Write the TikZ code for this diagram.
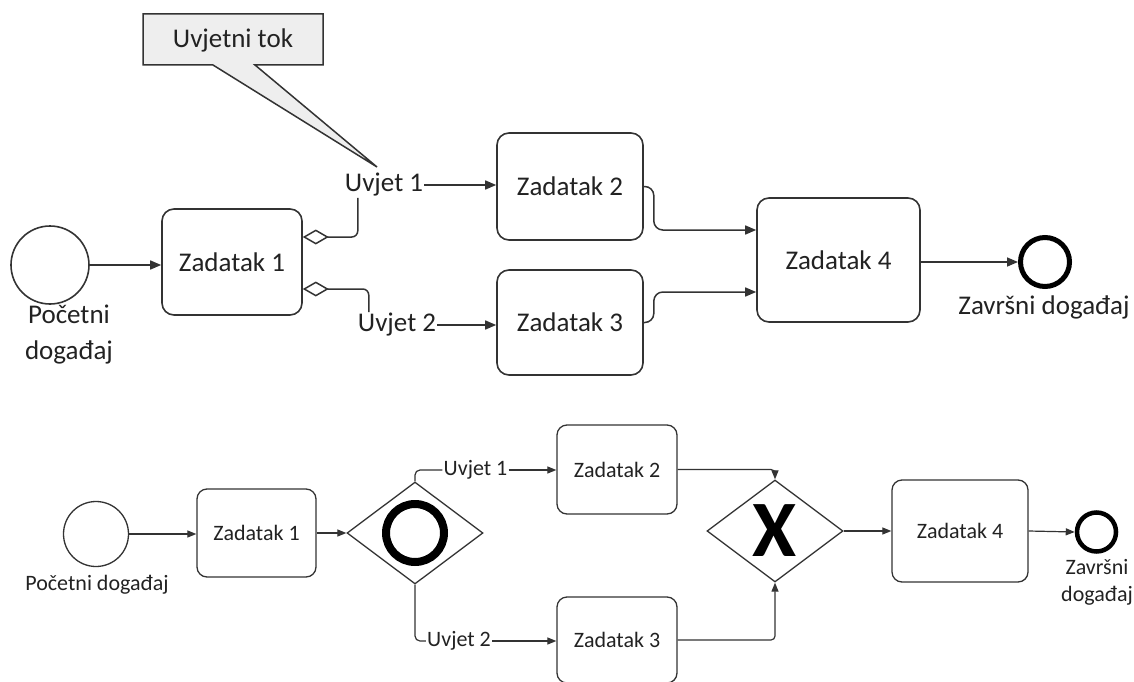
\documentclass[tikz,border=0pt]{standalone}
\usepackage{fontspec}
\setmainfont{Carlito}
\usetikzlibrary{arrows.meta,shapes.geometric,calc}
\definecolor{linec}{HTML}{333333}
\definecolor{txtc}{HTML}{222222}
\definecolor{callfill}{HTML}{EEEEEE}
\begin{document}
\begin{tikzpicture}[x=1pt,y=-1pt,
  bigtxt/.style={text=txtc,font=\fontsize{27}{36}\selectfont,inner sep=1pt},
  smalltxt/.style={text=txtc,font=\fontsize{22}{27}\selectfont,inner sep=1pt},
  taskA/.style={draw=linec,line width=1.6pt,rounded corners=12pt,inner sep=0pt,bigtxt},
  taskB/.style={draw=linec,line width=1.3pt,rounded corners=10pt,inner sep=0pt,smalltxt},
  startev/.style={circle,draw=linec,inner sep=0pt},
  endev/.style={circle,draw=black,inner sep=0pt},
  gateway/.style={diamond,draw=linec,line width=1.3pt,inner sep=0pt,minimum width=136pt,minimum height=102pt},
  flowA/.style={draw=linec,line width=1.5pt,-{Triangle[length=11pt,width=9pt]}},
  flowB/.style={draw=linec,line width=1.2pt,-{Triangle[length=9pt,width=7pt]}},
  condA/.style={draw=linec,line width=1.5pt,rounded corners=6pt,{Diamond[open,length=26pt,width=15pt]}-},
  plainB/.style={draw=linec,line width=1.2pt,rounded corners=5pt}
]
\useasboundingbox (0,0) rectangle (1134,682);

% ---------- top diagram ----------
\node[startev,line width=1.6pt,minimum size=78pt] (s1) at (50,265) {};
\node[bigtxt,align=center] (s1l) at (69,335) {Početni\\događaj};
\node[taskA,minimum width=140pt,minimum height=106pt] (t1) at (232,262) {Zadatak 1};
\node[taskA,minimum width=146pt,minimum height=107pt] (t2) at (570,186.5) {Zadatak 2};
\node[taskA,minimum width=146pt,minimum height=105pt] (t3) at (570,322.5) {Zadatak 3};
\node[taskA,minimum width=163pt,minimum height=124pt] (t4) at (838.5,260) {Zadatak 4};
\node[endev,line width=5pt,minimum size=49pt] (e1) at (1045,262) {};
\node[bigtxt] (e1l) at (1044,307) {Završni događaj};
\node[bigtxt] (c1) at (384,185) {Uvjet 1};
\node[bigtxt] (c2) at (397,325) {Uvjet 2};

% callout
\coordinate (tip) at (377,167);
\draw[draw=linec,line width=1.5pt,fill=callfill] (143,14) -- (323,14) -- (323,65) -- (255,65) -- (tip) -- (213,65) -- (143,65) -- cycle;
\node[bigtxt] (call) at (233,40) {Uvjetni tok};

\draw[flowA] (s1.east) -- (s1.east -| t1.west);
\draw[condA] ([yshift=25pt]t1.east) -| ($(c1.south west)+(14,0)$);
\draw[condA] ([yshift=-27pt]t1.east) -| ($(c2.north west)+(12,0)$);
\draw[flowA] (c1.east) -- (c1.east -| t2.west);
\draw[flowA] (c2.east) -- (c2.east -| t3.west);
\draw[flowA,rounded corners=9pt] (t2.east) -- ++(10,0) |- ([yshift=30pt]t4.west);
\draw[flowA,rounded corners=9pt] (t3.east) -- ++(10,0) |- ([yshift=-32pt]t4.west);
\draw[flowA] (t4.east |- e1.west) -- (e1.west);

% ---------- bottom diagram ----------
\node[startev,line width=1.3pt,minimum size=65pt] (s2) at (96,534) {};
\node[smalltxt] (s2l) at (97,585) {Početni događaj};
\node[taskB,minimum width=119pt,minimum height=88pt] (b1) at (256.5,533) {Zadatak 1};
\node[gateway] (g1) at (415,533) {};
\node[circle,draw=black,line width=8pt,minimum size=58pt,inner sep=0pt] (g1o) at (g1.center) {};
\node[smalltxt] (bu1) at (475.5,470) {Uvjet 1};
\node[smalltxt] (bu2) at (459,641) {Uvjet 2};
\node[taskB,minimum width=120pt,minimum height=89pt] (b2) at (617,469.5) {Zadatak 2};
\node[taskB,minimum width=120pt,minimum height=86pt] (b3) at (617,640) {Zadatak 3};
\node[gateway] (g2) at (775,531) {};
\node[text=black,font=\fontsize{80}{80}\selectfont\bfseries,inner sep=0pt] (g2x) at (g2.center) {X};
\node[taskB,minimum width=136pt,minimum height=102pt] (b4) at (960,531) {Zadatak 4};
\node[endev,line width=4.5pt,minimum size=39pt] (e2) at (1096.5,532) {};
\node[smalltxt,align=center] (e2l) at (1097,582) {Završni\\događaj};

\draw[flowB] (s2.east) -- (s2.east -| b1.west);
\draw[flowB] (b1.east) -- (g1.west);
\draw[plainB] (g1.north) |- (bu1.west);
\draw[flowB] (bu1.east) -- (bu1.east -| b2.west);
\draw[plainB] (g1.south) |- (bu2.west);
\draw[flowB] (bu2.east) -- (bu2.east -| b3.west);
\draw[flowB,rounded corners=4pt] (b2.east) -| (g2.north);
\draw[flowB,rounded corners=4pt] (b3.east) -| (g2.south);
\draw[flowB] (g2.east) -- (b4.west);
\draw[flowB] (b4.east) -- (e2.west);
\end{tikzpicture}
\end{document}
